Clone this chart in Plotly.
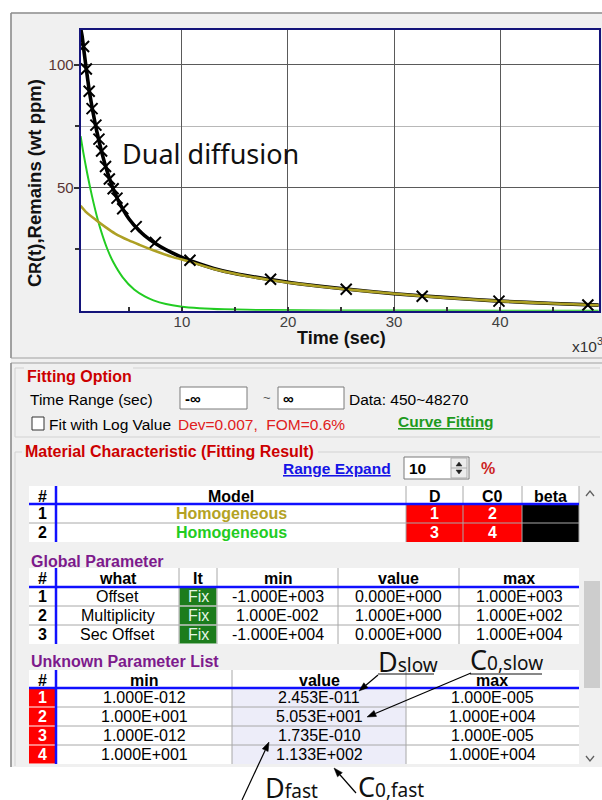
import math
import plotly.graph_objects as go

W, H = 602, 800
UI = "Liberation Sans, Arial, sans-serif"
NOTE = "Noto Sans, Open Sans, sans-serif"

# ---- curve data (time in 10^3 s, remaining concentration in wt ppm) ----
t_data = [0.73, 0.99, 1.26, 1.53, 1.89, 2.18, 2.43, 2.80, 3.16, 3.52, 3.88, 4.42,
          5.69, 7.50, 10.76, 18.36, 25.49, 32.65, 39.89, 48.27]
cr_data = [107.5, 98.3, 89.3, 82.2, 75.5, 69.8, 65.0, 58.7, 53.6, 49.6, 45.8, 41.5,
           34.2, 27.8, 20.5, 12.8, 8.7, 5.9, 3.9, 2.3]

t_fit = [0.45, 0.6, 0.8, 1.0, 1.25, 1.5, 1.75, 2.0, 2.5, 3.0, 3.5, 4.0, 4.5, 5.0, 6.0,
         7.0, 8.0, 9.0, 10.0, 11.0, 13.0, 15.0, 18.0, 21.0, 25.0, 30.0, 35.0, 40.0, 45.0, 49.3]
cr_fit = [115.0, 111.5, 104.5, 98.0, 90.0, 83.5, 77.8, 72.5, 63.5, 56.0, 49.8, 44.8, 40.8,
          37.4, 32.4, 28.8, 26.0, 23.7, 21.7, 20.0, 17.2, 15.1, 12.9, 11.0, 9.0, 6.9, 5.3,
          3.9, 2.95, 2.25]

t_slow = [0.45, 1.0, 1.9, 2.8, 3.7, 5.0, 6.0, 7.3, 9.0, 10.75, 13.0, 15.0, 18.0, 21.0,
          25.0, 29.0, 35.0, 39.9, 45.0, 49.3]
cr_slow = [42.7, 40.0, 36.9, 34.0, 31.4, 28.6, 26.8, 24.6, 22.0, 19.9, 17.0, 15.0, 12.7,
           10.9, 8.9, 7.3, 5.2, 3.9, 2.9, 2.2]

t_fast = [0.45, 0.7, 1.09, 1.53, 2.07, 2.5, 2.98, 3.5, 4.42, 5.5, 6.5, 7.32, 8.5, 9.85,
          11.66, 14.0, 18.2, 24.0, 30.0, 40.0, 49.3]
cr_fast = [71.0, 64.5, 55.5, 46.5, 37.0, 30.8, 25.0, 20.0, 13.6, 8.6, 5.8, 4.2, 2.7, 1.7,
           1.0, 0.55, 0.25, 0.1, 0.05, 0.02, 0.01]

x_ticks = [10, 20, 30, 40]
x_minor = [5, 15, 25, 35, 45]
y_ticks = [50, 100]
y_minor = [25, 75]

# ---- table contents ----
model_names = ["Homogeneous", "Homogeneous"]
model_colors = ["#b3a224", "#22cc22"]
model_d = ["1", "3"]
model_c0 = ["2", "4"]

glob_what = ["Offset", "Multiplicity", "Sec Offset"]
glob_min = ["-1.000E+003", "1.000E-002", "-1.000E+004"]
glob_val = ["0.000E+000", "1.000E+000", "0.000E+000"]
glob_max = ["1.000E+003", "1.000E+002", "1.000E+004"]

unk_min = ["1.000E-012", "1.000E+001", "1.000E-012", "1.000E+001"]
unk_val = ["2.453E-011", "5.053E+001", "1.735E-010", "1.133E+002"]
unk_max = ["1.000E-005", "1.000E+004", "1.000E-005", "1.000E+004"]

shapes, annots = [], []


def px(x):
    return x / W


def py(y):
    return 1 - y / H


def rect(x0, y0, x1, y1, fill=None, line=None, lw=1.0):
    shapes.append(dict(type="rect", xref="paper", yref="paper",
                       x0=px(x0), x1=px(x1), y0=py(y1), y1=py(y0),
                       fillcolor=fill or "rgba(0,0,0,0)",
                       line=dict(color=line or "rgba(0,0,0,0)", width=lw if line else 0),
                       layer="below"))


def seg(x0, y0, x1, y1, color="#a0a0a0", w=1.0, layer="below"):
    shapes.append(dict(type="line", xref="paper", yref="paper",
                       x0=px(x0), x1=px(x1), y0=py(y0), y1=py(y1),
                       line=dict(color=color, width=w), layer=layer))


def P(x, y):
    return f"{px(x):.5f},{py(y):.5f}"


def path(d, color="#333", fill=None, w=1.2):
    shapes.append(dict(type="path", xref="paper", yref="paper", path=d,
                       line=dict(color=color, width=w),
                       fillcolor=fill or "rgba(0,0,0,0)", layer="above"))


def txt(x, y, s, size=15.5, color="#000", bold=False, anchor="left", family=UI, angle=0):
    annots.append(dict(x=px(x), y=py(y), xref="paper", yref="paper", text=s,
                       showarrow=False, xanchor=anchor, yanchor="middle", textangle=angle,
                       borderpad=0,
                       font=dict(size=size, color=color, family=family,
                                 weight="bold" if bold else "normal")))


def arrow(hx, hy, tx, ty, head=9.0, half=3.2):
    # shaft from tail to head, plus a filled triangular head
    ang = math.atan2(hy - ty, hx - tx)
    bx, by = hx - head * math.cos(ang), hy - head * math.sin(ang)
    nx, ny = -math.sin(ang), math.cos(ang)
    seg(tx, ty, bx, by, "#000", 1.2, layer="above")
    path(f"M{P(hx, hy)} L{P(bx + half * nx, by + half * ny)} "
         f"L{P(bx - half * nx, by - half * ny)} Z", color="#000", fill="#000", w=0.5)


# ---- window background / frames ----
rect(0, 0, W, 12.5, fill="#ffffff")
rect(0, 0, 10.5, H, fill="#ffffff")
rect(0, 767, W, H, fill="#ffffff")
seg(11, 13, W, 13, "#8c8c8c", 1.6)
seg(11, 13, 11, 358, "#8c8c8c", 1.6)
seg(11, 358, W, 358, "#a0a0a0", 1.2)
seg(11, 363, W, 363, "#a0a0a0", 1.2)
seg(11, 363, 11, 767, "#8c8c8c", 1.6)

# ---- chart annotations ----
txt(121, 153, "Dual diffusion", size=27, color="#111", family=NOTE)
txt(34, 183, "C<span style='font-size:16px'>R</span>(t),Remains (wt ppm)", size=18.5,
    color="#111", bold=True, anchor="center", angle=-90)
txt(341, 338, "Time (sec)", size=18, color="#111", bold=True, anchor="center")
txt(571, 345, "x10<sup>3</sup>", size=15.5, color="#333")

# ---- Fitting Option group ----
grp = "#d2d2d2"
seg(15, 368, 24, 368, grp)
seg(133, 368, 600, 368, grp)
seg(15, 368, 15, 437, grp)
seg(15, 437, 600, 437, grp)
txt(26, 376, "Fitting Option", size=16, color="#cc0000", bold=True)
txt(29, 399, "Time Range (sec)")
rect(180, 387, 247, 409, fill="#ffffff", line="#7a7a7a")
txt(184, 398, "-∞", size=15, bold=True)
txt(262, 397, "~", size=13, color="#555")
rect(278, 387, 344, 409, fill="#ffffff", line="#7a7a7a")
txt(282, 398, "∞", size=15, bold=True)
txt(348, 399, "Data: 450~48270")
rect(32, 417, 44, 430, fill="#ffffff", line="#333333")
txt(48, 424, "Fit with Log Value")
txt(177, 424, "Dev=0.007,  FOM=0.6%", color="#e02020")
txt(397, 421, "<u>Curve Fitting</u>", size=15.5, color="#1e9a1e", bold=True)

# ---- Material Characteristic group ----
seg(15, 452, 22, 452, grp)
seg(318, 452, 602, 452, grp)
seg(15, 452, 15, 766, grp)
txt(24, 452, "Material Characteristic (Fitting Result)", size=16, color="#cc0000", bold=True)
txt(392, 468, "<u>Range Expand</u>", size=15.5, color="#1414e6", bold=True, anchor="right")
rect(404, 457, 469, 479, fill="#ffffff", line="#7a7a7a")
txt(408, 468, "10", size=15.5, bold=True)
rect(451, 458, 467, 478, fill="#ececec", line="#adadad")
seg(451, 468, 467, 468, "#adadad")
path(f"M{P(456, 466)} L{P(459, 462)} L{P(462, 466)} Z", color="#222", fill="#222", w=0.5)
path(f"M{P(456, 470)} L{P(459, 474)} L{P(462, 470)} Z", color="#222", fill="#222", w=0.5)
txt(480, 468, "%", size=16, color="#cc2222", bold=True)

# scrollbar
rect(583, 480, W, 767, fill="#f0f0f0")
rect(584, 581, 600, 688, fill="#cdcdcd")
path(f"M{P(586, 496)} L{P(590, 491)} L{P(594, 496)}", color="#606060", w=1.3)
path(f"M{P(586, 756)} L{P(590, 761)} L{P(594, 756)}", color="#606060", w=1.3)

BLUE = "#1010ff"
GRID = "#a8a8a8"

# ---- Model table ----
mc = [29, 56, 406, 463, 522, 579]
top, hb, rh = 486, 504, 19
rect(mc[0], top, mc[-1], hb, fill="#ffffff")
for i, h in enumerate(["#", "Model", "D", "C0", "beta"]):
    txt((mc[i] + mc[i + 1]) / 2, (top + hb) / 2 + 1, h, size=16, bold=True, anchor="center")
for r in range(len(model_names)):
    y0, y1 = hb + r * rh, hb + (r + 1) * rh
    rect(mc[0], y0, mc[2], y1, fill="#ffffff")
    rect(mc[2], y0, mc[3], y1, fill="#ff0000")
    rect(mc[3], y0, mc[4], y1, fill="#ff0000")
    rect(mc[4], y0, mc[5], y1, fill="#000000")
    yc = (y0 + y1) / 2
    txt(42.5, yc, str(r + 1), size=16, bold=True, anchor="center")
    txt((mc[1] + mc[2]) / 2, yc, model_names[r], size=16, color=model_colors[r], bold=True,
        anchor="center")
    txt((mc[2] + mc[3]) / 2, yc, model_d[r], size=16, color="#ffffff", bold=True, anchor="center")
    txt((mc[3] + mc[4]) / 2, yc, model_c0[r], size=16, color="#ffffff", bold=True, anchor="center")
seg(mc[0], hb + rh, mc[-1], hb + rh, GRID)
for x in mc[2:-1]:
    seg(x, top, x, hb + 2 * rh, GRID)
seg(mc[-1], top, mc[-1], hb + 2 * rh, GRID)
seg(mc[0], hb, mc[-1], hb, BLUE, 2.5)
seg(mc[1], top, mc[1], hb + 2 * rh, BLUE, 2.5)

# ---- Global Parameter table ----
txt(30, 561, "Global Parameter", size=16, color="#7d1a8c", bold=True)
gc = [29, 56, 179, 217, 338, 459, 579]
top, hb, rh = 568, 587, 19
rect(gc[0], top, gc[-1], hb + 3 * rh, fill="#ffffff")
for i, h in enumerate(["#", "what", "It", "min", "value", "max"]):
    txt((gc[i] + gc[i + 1]) / 2, (top + hb) / 2 + 1, h, size=16, bold=True, anchor="center")
for r in range(len(glob_what)):
    y0, y1 = hb + r * rh, hb + (r + 1) * rh
    yc = (y0 + y1) / 2
    rect(gc[2] + 0.5, y0 + 0.5, gc[3] - 0.5, y1 - 0.5, fill="#1c7c1c")
    cells = [str(r + 1), glob_what[r], "Fix", glob_min[r], glob_val[r], glob_max[r]]
    for i, s in enumerate(cells):
        txt((gc[i] + gc[i + 1]) / 2, yc, s, size=16,
            color="#e6f6e6" if i == 2 else "#000", bold=(i == 0), anchor="center")
    if r:
        seg(gc[0], y0, gc[-1], y0, GRID)
for x in gc[2:-1]:
    seg(x, top, x, hb + 3 * rh, GRID)
seg(gc[0], hb, gc[-1], hb, BLUE, 2.5)
seg(gc[1], top, gc[1], hb + 3 * rh, BLUE, 2.5)

# ---- Unknown Parameter List ----
txt(30, 661, "Unknown Parameter List", size=16, color="#7d1a8c", bold=True)
uc = [29, 56, 232, 406, 579]
top, hb, rh = 670, 688, 19
rect(uc[0], top, uc[-1], hb + 4 * rh, fill="#ffffff")
rect(uc[2], hb, uc[3], hb + 4 * rh, fill="#ededf9")
for i, h in enumerate(["#", "min", "value", "max"]):
    txt((uc[i] + uc[i + 1]) / 2, (top + hb) / 2 + 1, h, size=16, bold=True, anchor="center")
for r in range(len(unk_val)):
    y0, y1 = hb + r * rh, hb + (r + 1) * rh
    yc = (y0 + y1) / 2
    rect(uc[0], y0 + 0.5, uc[1], y1 - 0.5, fill="#ff0000")
    txt(42.5, yc, str(r + 1), size=16, color="#ffffff", bold=True, anchor="center")
    for i, s in enumerate([unk_min[r], unk_val[r], unk_max[r]], start=1):
        txt((uc[i] + uc[i + 1]) / 2, yc, s, size=16, anchor="center")
    if r:
        seg(uc[1], y0, uc[-1], y0, GRID)
for x in uc[2:-1]:
    seg(x, top, x, hb + 4 * rh, GRID)
seg(uc[0], hb, uc[-1], hb, BLUE, 2.5)
seg(uc[1], top, uc[1], hb + 4 * rh, BLUE, 2.5)

# ---- parameter call-outs ----
txt(377, 661, "D<span style='font-size:19px'>slow</span>", size=27, color="#111", family=NOTE)
seg(378, 674, 434, 674, "#111", 1.0)
txt(469, 659, "C<span style='font-size:19px'>0,slow</span>", size=27, color="#111", family=NOTE)
seg(470, 674, 542, 674, "#111", 1.0)
arrow(359, 691, 378, 675)
arrow(367, 717, 471, 673)
txt(264, 787, "D<span style='font-size:19px'>fast</span>", size=27, color="#111", family=NOTE)
txt(357, 786, "C<span style='font-size:19px'>0,fast</span>", size=27, color="#111", family=NOTE)
arrow(269, 742, 242, 800)
arrow(334, 768, 356, 793)

# ---- traces ----
fig = go.Figure()
fig.add_trace(go.Scatter(x=t_fit, y=cr_fit, mode="lines",
                         line=dict(color="#000", width=3.6, shape="spline", smoothing=0.6)))
fig.add_trace(go.Scatter(x=t_fast, y=cr_fast, mode="lines",
                         line=dict(color="#22cc22", width=2, shape="spline", smoothing=0.6)))
fig.add_trace(go.Scatter(x=t_slow, y=cr_slow, mode="lines",
                         line=dict(color="#ada024", width=2.6, shape="spline", smoothing=0.6)))
fig.add_trace(go.Scatter(x=t_data, y=cr_data, mode="markers",
                         marker=dict(symbol="x-thin-open", size=11, color="#000",
                                     line=dict(width=2, color="#000"))))

NAVY = "#14147a"
fig.update_layout(
    width=W, height=H, margin=dict(l=0, r=0, t=0, b=0),
    paper_bgcolor="#f0f0f0", plot_bgcolor="#ffffff", showlegend=False,
    shapes=shapes, annotations=annots,
    xaxis=dict(domain=[80.6 / W, 598.8 / W], range=[0.45, 49.3], tickvals=x_ticks,
               ticks="inside", ticklen=4, tickwidth=1.5, tickcolor="#333",
               tickfont=dict(size=15, color="#404040", family=UI), ticklabelstandoff=-4,
               showgrid=True, gridcolor="#5a5a5a", gridwidth=1.3, zeroline=False,
               minor=dict(tickvals=x_minor, ticks="inside", ticklen=4, tickwidth=1.5,
                          tickcolor="#333", showgrid=False),
               showline=True, linecolor=NAVY, linewidth=2, mirror=True, fixedrange=True),
    yaxis=dict(domain=[py(310.7), py(30)], range=[0, 114.2], tickvals=y_ticks,
               ticks="outside", ticklen=5, tickwidth=1.5, tickcolor="#333",
               tickfont=dict(size=15, color="#5a3434", family=UI), ticklabelstandoff=-3,
               showgrid=True, gridcolor="#5a5a5a", gridwidth=1.3, zeroline=False,
               minor=dict(tickvals=y_minor, ticks="outside", ticklen=4, tickwidth=1.5,
                          tickcolor="#333", showgrid=True, gridcolor="#b8b8b8", gridwidth=1.3),
               showline=True, linecolor=NAVY, linewidth=2, mirror=True, fixedrange=True),
)

fig.write_html("out.html", config={"displayModeBar": False})
